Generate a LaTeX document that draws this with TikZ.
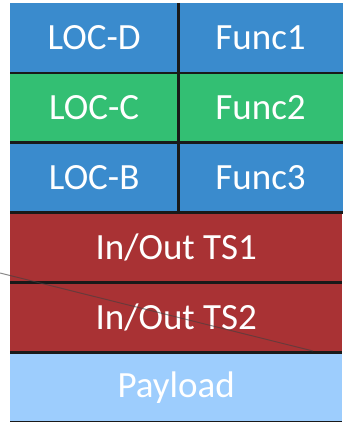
\documentclass[tikz,border=0pt]{standalone}
\usepackage{fontspec}
\setmainfont{Carlito}
\usepackage{xcolor}
\usepackage{tikz}
\usetikzlibrary{positioning}
\definecolor{hdrblue}{HTML}{3A8BCD}
\definecolor{hdrgreen}{HTML}{33BF73}
\definecolor{tsred}{HTML}{A93234}
\definecolor{payblue}{HTML}{9DCDFD}

\begin{document}
\begin{tikzpicture}[
    x=1pt, y=1pt,
    node distance=0pt,
    cell/.style={inner sep=0pt, minimum height=69.5pt, text=white, font=\fontsize{37}{40}\selectfont},
    loccell/.style={cell, minimum width=168pt},
    funccell/.style={cell, minimum width=164pt},
    widecell/.style={cell, minimum width=332pt},
    sep/.style={line width=2.6pt, black!90},
    slash/.style={line width=1pt, black!75, opacity=0.6}
]
\useasboundingbox (0,0) rectangle (342,422);
\node[loccell, fill=hdrblue, anchor=north west] (locd) at (10,419) {LOC-D};
\node[funccell, fill=hdrblue, right=of locd] (func1) {Func1};
\node[loccell, fill=hdrgreen, below=of locd] (locc) {LOC-C};
\node[funccell, fill=hdrgreen, right=of locc] (func2) {Func2};
\node[loccell, fill=hdrblue, below=of locc] (locb) {LOC-B};
\node[funccell, fill=hdrblue, right=of locb] (func3) {Func3};
\node[widecell, fill=tsred, anchor=north west] (ts1) at (locb.south west) {In/Out TS1};
\node[widecell, fill=tsred, below=of ts1] (ts2) {In/Out TS2};
\node[widecell, fill=payblue, below=of ts2] (payload) {Payload};
% row separators
\draw[sep] (locd.south west) -- (func1.south east);
\draw[sep] (locc.south west) -- (func2.south east);
\draw[sep] (locb.south west) -- (func3.south east);
\draw[sep] (ts1.south west) -- (ts1.south east);
\draw[sep] (ts2.south west) -- (ts2.south east);
\draw[sep] (payload.south west) -- (payload.south east);
\draw[sep] (locd.north east) -- (locb.south east);
% crossing line
\coordinate (tail) at (0,149);
\coordinate (head) at (313,71);
\draw[slash] (tail) -- (head);
\end{tikzpicture}
\end{document}
